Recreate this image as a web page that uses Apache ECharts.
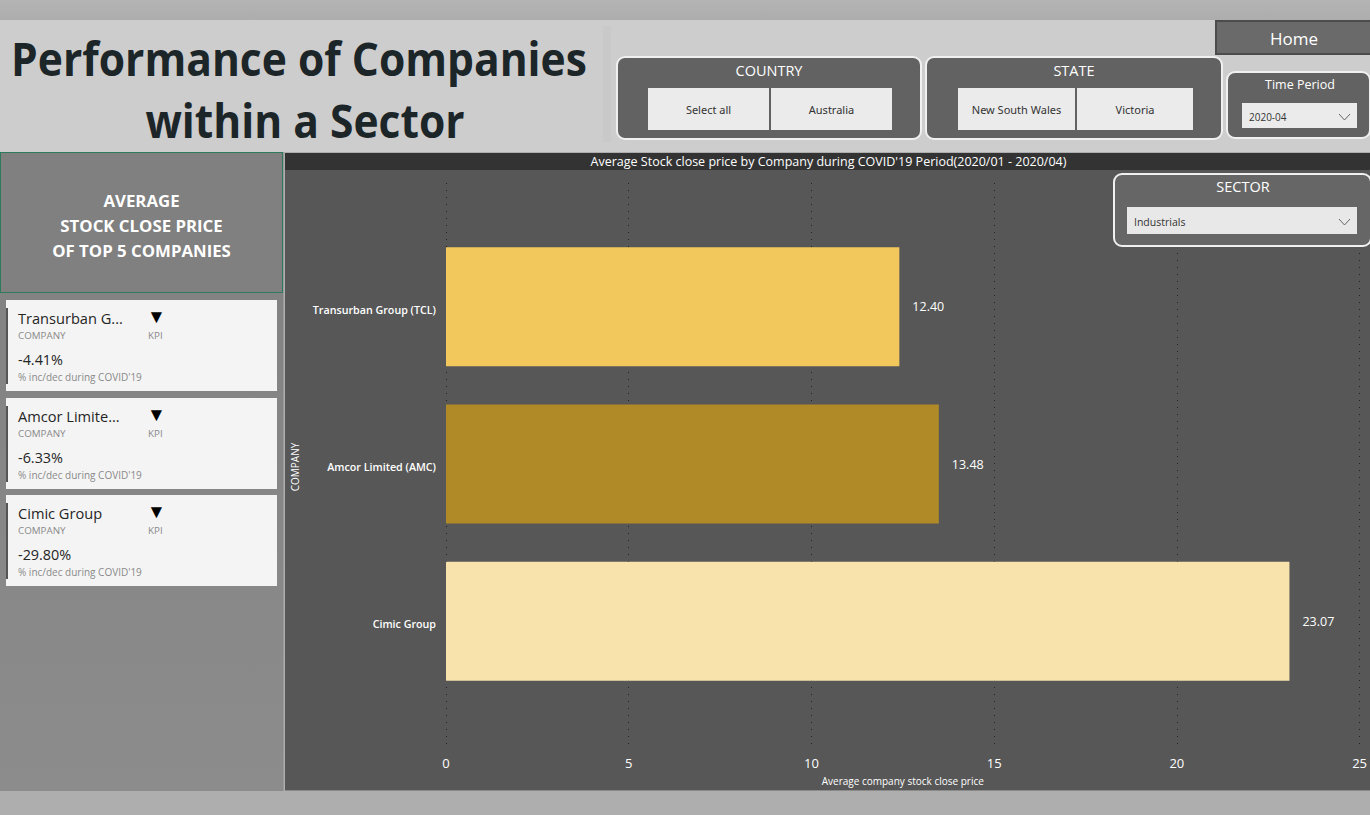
<!DOCTYPE html>
<html><head><meta charset="utf-8">
<style>
html,body{margin:0;padding:0;width:1370px;height:815px;overflow:hidden;background:#aeaeae}
body{position:relative;font-family:"Open Sans","Noto Sans",sans-serif}
.a{position:absolute;box-sizing:border-box}
.t{position:absolute;white-space:nowrap;text-align:center;line-height:1}
.panel{background:#626262;border:2px solid #f0f0f0;border-radius:9px}
.btn{background:#ebebeb;color:#333;font-size:11px;display:flex;align-items:center;justify-content:center;font-family:"Noto Sans",sans-serif}
.card{left:6px;width:271px;height:91px;background:#f4f4f4}
.card .bar{position:absolute;left:0;top:8px;width:2px;height:76px;background:#555}
</style></head><body>
<div class="a" style="left:0;top:0;width:1370px;height:20px;background:linear-gradient(#b4b4b4,#adadad)"></div>
<div class="a" style="left:0;top:20px;width:1370px;height:132px;background:#cdcdcd"></div>
<div class="a" style="left:603px;top:26px;width:8px;height:116px;background:#c9c9c9"></div>
<div id="title" class="t" style="left:-21.5px;top:27px;width:640px;font-size:46px;font-weight:700;color:#1c2528;line-height:62px;transform:scaleX(.925);transform-origin:center"></div>
<div class="a" style="left:1215px;top:20px;width:155px;height:35px;background:#6a6a6a;border:2px solid #4c4c4c;border-right:none"></div>
<div class="t" style="left:1215px;top:30px;width:158px;font-size:17px;font-weight:500;color:#fff">Home</div>

<div class="a panel" style="left:616px;top:56px;width:306px;height:84px"></div>
<div class="t" style="left:616px;top:64px;width:306px;font-size:14.5px;color:#fff">COUNTRY</div>
<div class="a btn" style="left:648px;top:88px;width:121px;height:42px">Select all</div>
<div class="a btn" style="left:771px;top:88px;width:121px;height:42px">Australia</div>

<div class="a panel" style="left:925px;top:56px;width:298px;height:84px"></div>
<div class="t" style="left:925px;top:64px;width:298px;font-size:14.5px;color:#fff">STATE</div>
<div class="a btn" style="left:958px;top:88px;width:117px;height:42px">New South Wales</div>
<div class="a btn" style="left:1077px;top:88px;width:116px;height:42px">Victoria</div>

<div class="a panel" style="left:1226px;top:71px;width:145px;height:68px"></div>
<div class="t" style="left:1226px;top:79px;width:148px;font-size:12.5px;color:#fff">Time Period</div>
<div class="a" style="left:1242px;top:103px;width:115px;height:25px;background:#ebebeb"></div>
<div class="t" style="left:1249px;top:112px;font-size:10px;color:#333">2020-04</div>
<svg class="a" style="left:1338px;top:113px" width="13" height="8"><path d="M1 1L6.5 7L12 1" fill="none" stroke="#666"/></svg>

<div class="a" style="left:0;top:152px;width:284px;height:639px;background:linear-gradient(#808080,#8c8c8c);border-right:1px solid #9a9a9a"></div>
<div class="a" style="left:0;top:152px;width:283px;height:141px;background:#808080;border:1px solid #2d7a5c"></div>
<div id="head" class="t" style="left:0;top:188px;width:283px;font-size:16.8px;font-weight:700;color:#fff;line-height:25px"></div>
<div id="cards"></div>

<div class="a" style="left:285px;top:153px;width:1085px;height:638px;background:#575757"></div>
<div class="a" style="left:285px;top:153px;width:1085px;height:17px;background:#333"></div>
<div id="chart" class="a" style="left:0;top:0;width:1370px;height:815px"></div>
<div class="a" style="left:285px;top:790px;width:1085px;height:1px;background:#8a8a8a"></div>
<div class="t" id="ctitle" style="left:285px;top:156px;width:1087px;font-size:12.5px;color:#fff"></div>

<div class="a panel" style="left:1113px;top:173px;width:259px;height:74px;background:#666"></div>
<div class="t" style="left:1113px;top:180px;width:260px;font-size:14.5px;color:#fff">SECTOR</div>
<div class="a" style="left:1127px;top:207px;width:230px;height:27px;background:#e8e8e8"></div>
<div class="t" style="left:1134px;top:217px;font-size:10.5px;color:#333">Industrials</div>
<svg class="a" style="left:1338px;top:218px" width="13" height="8"><path d="M1 1L6.5 7L12 1" fill="none" stroke="#666"/></svg>

<script src="https://cdn.jsdelivr.net/npm/echarts@6/dist/echarts.min.js"></script>
<script>
const companies = ['Transurban Group (TCL)', 'Amcor Limited (AMC)', 'Cimic Group'];
const avgClose = [12.40, 13.48, 23.07];
const barColors = ['#f2c85c', '#b08a27', '#f8e3ac'];
const xTicks = [0, 5, 10, 15, 20, 25];
const cardNames = ['Transurban G...', 'Amcor Limite...', 'Cimic Group'];
const cardPct = ['-4.41%', '-6.33%', '-29.80%'];
const cardTops = [300, 398, 495];
const titleLines = ['Performance of Companies', 'within a Sector'];
const headLines = ['AVERAGE', 'STOCK CLOSE PRICE', 'OF TOP 5 COMPANIES'];
const chartTitle = "Average Stock close price by Company during COVID'19 Period(2020/01 - 2020/04)";

document.getElementById('title').innerHTML = titleLines[0] + '<br><span style="position:relative;left:6.5px">' + titleLines[1] + '</span>';
document.getElementById('head').innerHTML = headLines.join('<br>');
document.getElementById('ctitle').textContent = chartTitle;
document.getElementById('cards').innerHTML = cardNames.map((n, i) => `
<div class="a card" style="top:${cardTops[i]}px"><div class="bar"></div>
<div class="t" style="left:12px;top:11px;font-size:14.6px;color:#252525">${n}</div>
<div class="t" style="left:12px;top:31px;font-size:9.8px;color:#8a8a8a">COMPANY</div>
<div class="t" style="left:141px;top:7px;font-size:19px;color:#000">▼</div>
<div class="t" style="left:142px;top:31px;font-size:9.8px;color:#8a8a8a">KPI</div>
<div class="t" style="left:12px;top:53px;font-size:14.4px;color:#252525">${cardPct[i]}</div>
<div class="t" style="left:12px;top:72px;font-size:10px;color:#8a8a8a">% inc/dec during COVID'19</div>
</div>`).join('');

const font = '"Open Sans","Noto Sans",sans-serif';
const chart = echarts.init(document.getElementById('chart'), null, {renderer: 'svg'});
chart.setOption({
  animation: false,
  backgroundColor: 'transparent',
  grid: [
    {left: 446, right: 10, top: 183, height: 562},
    {left: 446, right: 10, top: 228, height: 472}
  ],
  xAxis: [
    {gridIndex: 0, type: 'value', min: xTicks[0], max: xTicks[xTicks.length - 1], interval: 5,
     name: 'Average company stock close price', nameLocation: 'middle', nameGap: 31,
     nameTextStyle: {color: '#fff', fontSize: 10, fontFamily: font},
     axisLine: {show: false}, axisTick: {show: false},
     axisLabel: {color: '#fff', fontSize: 13, margin: 11, fontFamily: font},
     splitLine: {show: true, lineStyle: {color: '#222', type: [1, 6], width: 1}}},
    {gridIndex: 1, type: 'value', min: 0, max: 25, show: false}
  ],
  yAxis: [
    {gridIndex: 0, type: 'value', show: false},
    {gridIndex: 1, type: 'category', data: companies, inverse: true,
     name: 'COMPANY', nameLocation: 'middle', nameRotate: 90, nameGap: 146,
     nameTextStyle: {color: '#fff', fontSize: 10, fontFamily: font, padding: [0, 6, 0, 0]},
     axisLine: {show: false}, axisTick: {show: false},
     axisLabel: {color: '#fff', margin: 10, fontFamily: font,
       formatter: '{a|{value}}',
       rich: {a: {color: '#fff', fontSize: 10.7, fontWeight: 600, fontFamily: font, padding: [6, 0, 0, 0]}}}}
  ],
  series: [{
    type: 'bar', xAxisIndex: 1, yAxisIndex: 1, barWidth: 119,
    data: avgClose.map((v, i) => ({value: v, itemStyle: {color: barColors[i]}})),
    label: {show: true, position: 'right', distance: 13, color: '#fff', fontSize: 12.5, fontFamily: font,
            formatter: p => p.value.toFixed(2)}
  }]
});
</script>
</body></html>
